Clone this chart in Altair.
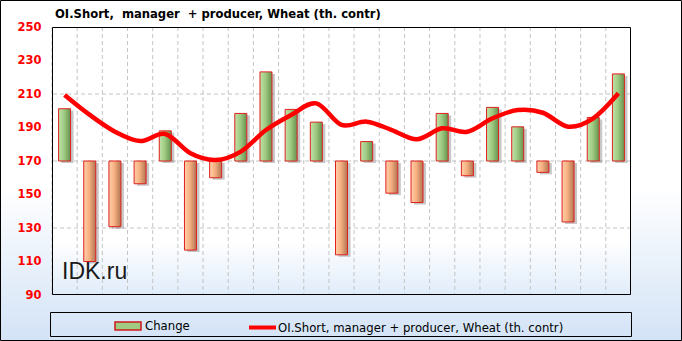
import altair as alt
import pandas as pd

# ---------------- data ----------------
dates = ["15.06.2021", "22.06.2021", "29.06.2021", "06.07.2021", "13.07.2021",
         "20.07.2021", "27.07.2021", "03.08.2021", "10.08.2021", "17.08.2021",
         "24.08.2021", "31.08.2021", "07.09.2021", "14.09.2021", "21.09.2021",
         "28.09.2021", "05.10.2021", "12.10.2021", "19.10.2021", "26.10.2021",
         "02.11.2021", "09.11.2021", "16.11.2021"]
change = [7.8, -15.0, -9.8, -3.4, 4.5, -13.3, -2.5, 7.1, 13.3, 7.7, 5.8, -14.0,
          2.9, -4.8, -6.2, 7.1, -2.2, 8.0, 5.1, -1.7, -9.1, 6.5, 13.0]
oi_short = [209.4, 197.5, 187.5, 181.9, 186.1, 174.6, 170.6, 175.6, 188.5, 197.5,
            204.4, 191.5, 193.5, 188.5, 183.0, 189.5, 187.5, 195.5, 200.4, 198.8,
            190.5, 195.5, 210.4]
tick_labels = dates[::2]
left_ticks = [90, 110, 130, 150, 170, 190, 210, 230, 250]
right_ticks = [-20, -10, 0, 10, 20]
grid_vals = [-10, 0, 10]

BAR_NAME = "Change"
LINE_NAME = "OI.Short, manager + producer, Wheat (th. contr)"
TITLE = "OI.Short,\u00a0 manager\u00a0 + producer, Wheat (th. contr)"

df = pd.DataFrame({"date": dates, "change": change, "oi": oi_short,
                   "series": BAR_NAME, "lseries": LINE_NAME})

# ---------------- layout ----------------
W, H = 579, 268
L, T, R, B = 52, 27, 51, 46
FONT = "DejaVu Sans"

one = alt.Data(values=[{"k": 0}])
gdata = alt.Data(values=[{"g": v} for v in grid_vals])


def grad(stops, vertical=True):
    return alt.Gradient(
        gradient="linear", x1=0, y1=0, x2=0 if vertical else 1, y2=1 if vertical else 0,
        stops=[alt.GradientStop(offset=o, color=c) for o, c in stops])


def grad_dict(stops):
    return {"gradient": "linear", "x1": 0, "y1": 0, "x2": 1, "y2": 0,
            "stops": [{"offset": o, "color": c} for o, c in stops]}


bg_outer = alt.Chart(one).mark_rect(
    fill=grad([(0, "#FFFFFF"), (0.55, "#FFFFFF"), (1, "#D3E3F6")]),
).encode(x=alt.value(-L), x2=alt.value(W + R), y=alt.value(-T), y2=alt.value(H + B))

bg_plot = alt.Chart(one).mark_rect(
    fill=grad([(0, "#FFFFFF"), (0.8, "#FFFFFF"), (1, "#E0ECFA")]),
).encode(x=alt.value(0), x2=alt.value(W), y=alt.value(0), y2=alt.value(H))

xscale = alt.Scale(paddingInner=0, paddingOuter=0)

vgrid = alt.Chart(df).mark_rule(color="#C4C4C4", strokeDash=[4, 3], strokeWidth=1).encode(
    x=alt.X("date:N", sort=dates, scale=xscale, bandPosition=0, axis=None))

hgrid = alt.Chart(gdata).mark_rule(color="#C4C4C4", strokeDash=[4, 3], strokeWidth=1).encode(
    y=alt.Y("g:Q", scale=alt.Scale(domain=[-20, 20]), axis=None))

shadow = alt.Chart(df).mark_bar(size=12, color="black", opacity=0.22, xOffset=3, yOffset=2).encode(
    x=alt.X("date:N", sort=dates, scale=xscale, axis=None),
    y=alt.Y("change:Q", scale=alt.Scale(domain=[-20, 20]), axis=None))

green = grad_dict([(0, "#C2E2AA"), (0.45, "#9FCB82"), (1, "#66914F")])
orange = grad_dict([(0, "#FFD0AC"), (0.45, "#F6B080"), (1, "#B07452")])

bars = alt.Chart(df).mark_bar(size=12, stroke="#E0201C", strokeWidth=1).encode(
    x=alt.X("date:N", sort=dates, scale=xscale,
            axis=alt.Axis(values=tick_labels, title=None, ticks=False, domain=False, grid=False,
                          labelAngle=0, labelFont="Liberation Sans", labelFontWeight="bold",
                          labelFontSize=8, labelColor="#000000", labelPadding=4, zindex=1)),
    y=alt.Y("change:Q", scale=alt.Scale(domain=[-20, 20]),
            axis=alt.Axis(orient="right", values=right_ticks, title=None, ticks=False,
                          domain=False, grid=False, labelFont=FONT, labelFontWeight="bold",
                          labelFontSize=11.5, labelColor="#CC0000", labelPadding=11, zindex=1)),
    fill=alt.Fill("series:N", scale=alt.Scale(domain=[BAR_NAME], range=["#9FCB82"]),
                  condition=[{"test": "datum.change < 0", "value": orange},
                             {"test": "datum.change >= 0", "value": green}],
                  legend=alt.Legend(title=None, orient="none", legendX=62, legendY=285,
                                    symbolType="M-1,-0.3H1V0.3H-1Z", symbolSize=676,
                                    symbolStrokeColor="#D01818", symbolStrokeWidth=1.5,
                                    labelFont=FONT, labelFontSize=11.7, labelColor="#000000",
                                    labelOffset=3, padding=0, labelLimit=0)),
)

right_group = alt.layer(hgrid, shadow, bars)

line = alt.Chart(df).mark_line(strokeWidth=4.5, interpolate="cardinal").encode(
    x=alt.X("date:N", sort=dates, scale=xscale, axis=None),
    y=alt.Y("oi:Q", scale=alt.Scale(domain=[90, 250]),
            axis=alt.Axis(orient="left", values=left_ticks, title=None, ticks=False,
                          domain=False, grid=False, labelFont=FONT, labelFontWeight="bold",
                          labelFontSize=11.5, labelColor="#FF0000", labelPadding=11, zindex=1)),
    stroke=alt.Stroke("lseries:N", scale=alt.Scale(domain=[LINE_NAME], range=["#FF0000"]),
                      legend=alt.Legend(title=None, orient="none", legendX=195, legendY=285,
                                        symbolType="stroke", symbolSize=729,
                                        symbolStrokeWidth=4,
                                        labelFont=FONT, labelFontSize=11.7, labelLimit=0,
                                        labelColor="#000000", labelOffset=0, padding=0)),
)

plot_border = alt.Chart(one).mark_rect(fill=None, stroke="black", strokeWidth=1).encode(
    x=alt.value(0.5), x2=alt.value(W - 0.5), y=alt.value(0.5), y2=alt.value(H - 0.5))

legend_frame = alt.Chart(one).mark_rect(fill=None, stroke="black", strokeWidth=1).encode(
    x=alt.value(-1.5), x2=alt.value(W + 0.5), y=alt.value(285.5), y2=alt.value(309.5))

outer_border = alt.Chart(one).mark_rect(fill=None, stroke="black", strokeWidth=1).encode(
    x=alt.value(-L + 0.5), x2=alt.value(W + R - 0.5), y=alt.value(-T + 0.5), y2=alt.value(H + B - 0.5))

watermark = alt.Chart(one).mark_text(
    text="IDK.ru", font="Liberation Sans", fontSize=23, color="#1A1A1A",
    align="left", baseline="alphabetic").encode(x=alt.value(10), y=alt.value(252))

title = alt.Chart(one).mark_text(
    text=TITLE, font=FONT, fontSize=11.6, fontWeight="bold", color="#000000",
    align="left", baseline="alphabetic").encode(x=alt.value(3), y=alt.value(-9))

chart = alt.layer(
    bg_outer, bg_plot, vgrid, right_group, line, watermark,
    plot_border, legend_frame, outer_border, title,
).resolve_scale(y="independent").properties(
    width=W, height=H,
    autosize=alt.AutoSizeParams(type="none"),
    padding={"left": L, "top": T, "right": R, "bottom": B},
).configure_view(stroke=None).configure(background="white")

chart.save("out.html", embed_options={"renderer": "svg", "actions": False})
